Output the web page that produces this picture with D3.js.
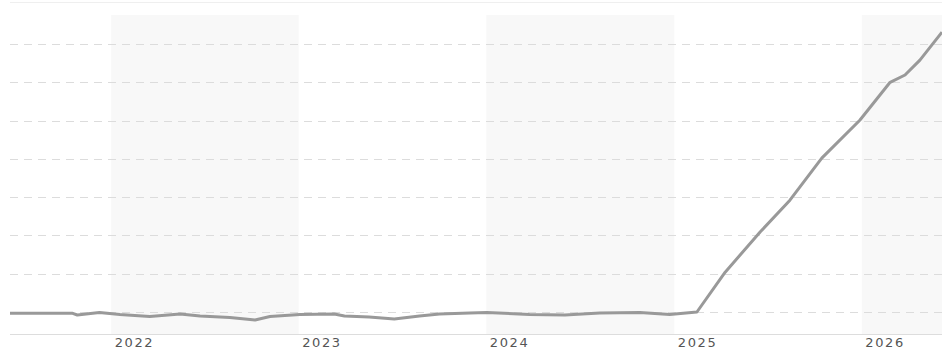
<!DOCTYPE html>
<html>
<head>
<meta charset="utf-8">
<script src="https://cdn.jsdelivr.net/npm/d3@7"></script>
<style>
  html, body { margin: 0; padding: 0; background: #fff; }
  svg { display: block; }
</style>
</head>
<body>
<svg id="chart" width="942" height="347"></svg>
<script>
// ---- data ----
const dates = [
  "2021-06-18","2021-10-18","2021-10-27","2021-12-09","2022-01-18","2022-03-17",
  "2022-05-15","2022-06-23","2022-08-20","2022-10-08","2022-11-06","2023-01-03",
  "2023-03-11","2023-03-31","2023-05-18","2023-07-06","2023-08-24","2023-10-02",
  "2023-11-30","2024-01-02","2024-03-25","2024-06-02","2024-08-09","2024-10-26",
  "2024-12-23","2025-02-14","2025-04-10","2025-06-17","2025-08-14","2025-10-15",
  "2025-12-28","2026-02-25","2026-03-26","2026-04-24","2026-06-06"
];
const values = [
  -3.4, -3.4, -7.8, -1.3, -6.5, -11.7,
  -5.2, -10.4, -14.4, -20.9, -11.7, -6.5,
  -5.2, -10.4, -13.0, -18.3, -10.4, -5.2,
  -2.6, -1.3, -6.5, -7.8, -2.6, -1.3,
  -6.5, 0.0, 104, 209, 292, 402,
  501, 600, 619, 658, 731
];
const yearTicks = ["2022","2023","2024","2025","2026"];
const gridValues = [0, 100, 200, 300, 400, 500, 600, 700];
const domainStart = "2021-06-18";
const domainEnd = "2026-06-06";

// ---- chart ----
const parse = d3.timeParse("%Y-%m-%d");
const mLeft = 10, mRight = 942, mTop = 15, mBottom = 334;
const svg = d3.select("#chart");

const x = d3.scaleTime()
  .domain([parse(domainStart), parse(domainEnd)])
  .range([mLeft, mRight]);
const y = d3.scaleLinear()
  .domain([0, 700])
  .range([312, 44]);

const yearDates = yearTicks.map(t => new Date(+t, 0, 1));

// alternating year bands (2022, 2024, 2026)
yearDates.forEach((d, i) => {
  if (i % 2 !== 0) return;
  const next = new Date(d.getFullYear() + 1, 0, 1);
  const x0 = Math.max(mLeft, x(d)), x1 = Math.min(mRight, x(next));
  svg.append("rect")
    .attr("x", x0).attr("y", mTop)
    .attr("width", x1 - x0).attr("height", mBottom - mTop)
    .attr("fill", "#f8f8f8");
});

// top border
svg.append("line")
  .attr("x1", mLeft).attr("x2", mRight)
  .attr("y1", 2.5).attr("y2", 2.5)
  .attr("stroke", "#efefef").attr("stroke-width", 1);

// dashed grid
svg.append("g").selectAll("line").data(gridValues).join("line")
  .attr("x1", mLeft).attr("x2", mRight)
  .attr("y1", d => Math.round(y(d)) + 0.5)
  .attr("y2", d => Math.round(y(d)) + 0.5)
  .attr("stroke", "#dcdcdc")
  .attr("stroke-width", 1)
  .attr("stroke-dasharray", "8,6");

// x axis
const xAxis = d3.axisBottom(x)
  .tickValues(yearDates)
  .tickSize(0)
  .tickFormat(d3.timeFormat("%Y"));
const gx = svg.append("g")
  .attr("transform", `translate(0,${mBottom})`)
  .call(xAxis);
gx.select(".domain")
  .attr("d", `M${mLeft},0.5H${mRight}`)
  .attr("stroke", "#dddddd");
gx.selectAll("text")
  .attr("text-anchor", "start")
  .attr("x", 3)
  .attr("y", 4)
  .attr("dy", "0.71em")
  .attr("fill", "#555")
  .style("font-family", "'DejaVu Sans', Verdana, sans-serif")
  .style("font-size", "13px")
  .style("letter-spacing", "1.6px");

// line
const data = dates.map((d, i) => ({ date: parse(d), value: values[i] }));
const line = d3.line()
  .x(d => x(d.date))
  .y(d => y(d.value));
svg.append("path")
  .datum(data)
  .attr("d", line)
  .attr("fill", "none")
  .attr("stroke", "#999999")
  .attr("stroke-width", 3)
  .attr("stroke-linejoin", "round");
</script>
</body>
</html>
